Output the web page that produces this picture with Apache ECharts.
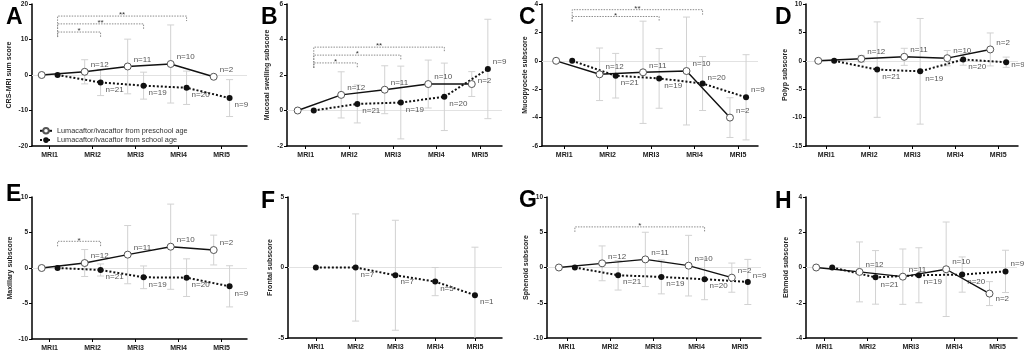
<!DOCTYPE html>
<html>
<head>
<meta charset="utf-8">
<script src="https://cdn.jsdelivr.net/npm/echarts@6/dist/echarts.min.js"></script>
<style>
  html, body { margin: 0; background: #fff; }
  #chart { width: 1024px; height: 352px; }
</style>
</head>
<body>
<div id="chart"></div>
<script>
const visits = ['MRI1', 'MRI2', 'MRI3', 'MRI4', 'MRI5'];
const PRE = 'Lumacaftor/ivacaftor from preschool age';
const SCHOOL = 'Lumacaftor/ivacaftor from school age';

// rows = panels A..H, columns = MRI1..MRI5 (change from baseline, mean and SD)
const preMean = [
  [0, 0.9, 2.4, 3.1, -0.5],      // A
  [0, 0.88, 1.17, 1.49, 1.49],   // B
  [0, -0.95, -0.81, -0.72, -4.0],// C
  [0, 0.35, 0.7, 0.46, 2.0],     // D
  [0, 0.7, 1.88, 3.0, 2.53],     // E
  null,                          // F (no preschool group)
  [0, 0.59, 1.15, 0.26, -1.44],  // G
  [0, -0.25, -0.52, -0.1, -1.48] // H
];
const preSd = [
  [null, 3.4, 7.7, 11, null],
  [null, 1.3, 1.35, 1.35, 0.7],
  [null, 1.85, 3.6, 3.8, 1.4],
  [null, 0.6, 1.5, 1.35, 2.9],
  [null, 1.9, 4.1, 6.0, 2.1],
  null,
  [null, 2.47, 3.85, 4.3, 2.07],
  [null, 1.7, 1.57, 2.68, 0.68]
];
const schoolMean = [
  [0, -2.1, -3.0, -3.6, -6.5],
  [0, 0.37, 0.45, 0.77, 2.34],
  [0, -1.05, -1.24, -1.6, -2.57],
  [0, -1.55, -1.85, 0.22, -0.25],
  [0, -0.28, -1.31, -1.36, -2.58],
  [0, 0, -0.55, -1.0, -1.96],
  [0, -1.1, -1.34, -1.67, -2.05],
  [0, -0.56, -0.44, -0.4, -0.22]
];
const schoolSd = [
  [null, 3.7, 3.8, 4.7, 5.2],
  [null, 1.07, 2.05, 1.9, 2.8],
  [null, 1.57, 2.1, 1.9, 3.0],
  [null, 8.4, 9.3, 1.0, 0.9],
  [null, 0.85, 1.6, 2.65, 2.9],
  [null, 3.8, 3.9, 1.0, 3.4],
  [null, 2.1, 2.4, 2.9, 3.2],
  [null, 1.52, 1.56, 1.0, 1.2]
];
const preN = [null, 12, 11, 10, 2];
const schoolN = [null, 21, 19, 20, 9];
const frontalN = [null, 7, 7, 5, 1];

const font = 'Liberation Sans, Arial, Helvetica, sans-serif';
const GREY_BAR = '#d2d2d2';
const OFF = 0.185; // sideways shift of the two groups

// layout per panel; brackets are [to visit index, height, stars]
const panels = [
  {letter: 'A', name: 'CRS-MRI sum score', box: [32, 4, 215, 142], x: [0.59, 5.59], y: [-20, 20, 10], at: [1, 1], gap: 19,
    brackets: [[1, 12.1, '*'], [2, 14.4, '**'], [3, 16.6, '**']]},
  {letter: 'B', name: 'Mucosal swelling subscore', box: [287, 4, 215, 142], x: [0.57, 5.51], y: [-2, 6, 2], at: [256, 1], gap: 16,
    brackets: [[1, 2.68, '*'], [2, 3.12, '*'], [3, 3.57, '**']], schoolDy: {4: -7}, preDy: {4: -3}},
  {letter: 'C', name: 'Mucopyocele subscore', box: [542, 4, 216, 142], x: [0.49, 5.46], y: [-6, 4, 2], at: [514, 1], gap: 13,
    brackets: [[2, 3.12, '*'], [3, 3.6, '**']], schoolDy: {3: -6, 4: -7}},
  {letter: 'D', name: 'Polyp subscore', box: [806, 4, 212, 142], x: [0.53, 5.46], y: [-15, 10, 5], at: [770, 1], gap: 17.5,
    schoolDy: {4: 3}},
  {letter: 'E', name: 'Maxillary subscore', box: [32, 197, 215, 142], x: [0.59, 5.59], y: [-10, 10, 5], at: [1, 178], gap: 18.5,
    brackets: [[1, 3.76, '*']]},
  {letter: 'F', name: 'Frontal subscore', box: [288, 197, 214, 141], x: [0.3, 5.68], y: [-5, 5, 5], at: [256, 185], gap: 14,
    single: true},
  {letter: 'G', name: 'Sphenoid subscore', box: [547, 197, 214, 141], x: [0.54, 5.49], y: [-10, 10, 5], at: [514, 184], gap: 17,
    brackets: [[3, 5.76, '*']], schoolDy: {4: -6}},
  {letter: 'H', name: 'Ethmoid subscore', box: [806, 197, 211, 141], x: [0.58, 5.45], y: [-4, 4, 2], at: [770, 185], gap: 16.5,
    preDy: {4: 5}, schoolDy: {4: -8}}
];

function errorBars(means, sds, shift, gi) {
  return {
    type: 'custom', xAxisIndex: gi, yAxisIndex: gi, z: 2, silent: true, clip: true,
    dimensions: ['x', 'mean', 'sd'], encode: {x: 0, y: 1},
    data: means.map((m, i) => [i + 1 + shift, m, sds[i] == null ? 0 : sds[i]]),
    renderItem(params, api) {
      const x = api.value(0), m = api.value(1), sd = api.value(2);
      if (!sd) return null;
      const hi = api.coord([x, m + sd]), lo = api.coord([x, m - sd]);
      const st = {stroke: GREY_BAR, lineWidth: 1};
      return {type: 'group', children: [
        {type: 'line', shape: {x1: hi[0], y1: hi[1], x2: lo[0], y2: lo[1]}, style: st},
        {type: 'line', shape: {x1: hi[0] - 3.5, y1: hi[1], x2: hi[0] + 3.5, y2: hi[1]}, style: st},
        {type: 'line', shape: {x1: lo[0] - 3.5, y1: lo[1], x2: lo[0] + 3.5, y2: lo[1]}, style: st}
      ]};
    }
  };
}

function lineSeries(name, means, counts, shift, gi, dy, defDy, open) {
  return {
    type: 'line', name, xAxisIndex: gi, yAxisIndex: gi, z: open ? 4 : 3,
    symbol: 'circle', symbolSize: open ? 7 : 6, showAllSymbol: true,
    itemStyle: open ? {color: '#fff', borderColor: '#555', borderWidth: 1} : {color: '#111'},
    lineStyle: open ? {color: '#111', width: 1.4} : {color: '#111', width: 2, type: 'dotted'},
    emphasis: {disabled: true},
    label: {show: true, position: 'right', distance: 2, fontSize: 8, color: '#555', fontFamily: font},
    data: means.map((m, i) => ({
      value: [i + 1 + shift, m],
      label: counts[i] == null ? {show: false} : {
        formatter: 'n=' + counts[i],
        offset: [0, (dy && dy[i] != null) ? dy[i] : defDy]
      }
    }))
  };
}

function bracketSeries(p, gi) {
  const base = Math.min(...p.brackets.map(b => b[1]));
  return {
    type: 'custom', xAxisIndex: gi, yAxisIndex: gi, z: 5, silent: true,
    dimensions: ['from', 'to', 'h'], encode: {x: [0, 1], y: 2},
    data: p.brackets.map(b => [1 + OFF, b[0] + 1 + OFF, b[1]]),
    renderItem(params, api) {
      const a = api.coord([api.value(0), api.value(2)]);
      const b = api.coord([api.value(1), api.value(2)]);
      const foot = api.coord([api.value(0), base])[1] + 5;
      return {type: 'group', children: [
        {type: 'polyline',
          shape: {points: [[a[0], foot], [a[0], a[1]], [b[0], b[1]], [b[0], b[1] + 5]]},
          style: {stroke: '#8c8c8c', lineWidth: 1, lineDash: [1.5, 1.2], fill: 'none'}},
        {type: 'text', x: (a[0] + b[0]) / 2, y: a[1] + 3,
          style: {text: p.brackets[params.dataIndex][2], fontSize: 8, fontFamily: font,
            fill: '#333', align: 'center', verticalAlign: 'bottom'}}
      ]};
    }
  };
}

const grid = [], xAxis = [], yAxis = [], series = [], title = [];
panels.forEach((p, gi) => {
  const [l, t, w, h] = p.box;
  grid.push({left: l, top: t, width: w, height: h});
  title.push({text: p.letter, left: p.at[0], top: p.at[1],
    textStyle: {fontSize: 23, fontWeight: 'bold', color: '#000', fontFamily: font}});
  xAxis.push({
    type: 'value', gridIndex: gi, min: p.x[0], max: p.x[1],
    axisLine: {show: true, onZero: false, lineStyle: {color: '#000', width: 1.5}},
    axisTick: {show: true, length: 3, customValues: [1, 2, 3, 4, 5], lineStyle: {color: '#000', width: 1}},
    axisLabel: {customValues: [1, 2, 3, 4, 5], formatter: v => visits[v - 1], margin: 6,
      fontSize: 7, fontWeight: 'bold', color: '#222', fontFamily: font},
    splitLine: {show: false}
  });
  yAxis.push({
    type: 'value', gridIndex: gi, min: p.y[0], max: p.y[1], interval: p.y[2],
    name: p.name, nameLocation: 'middle', nameGap: p.gap,
    nameTextStyle: {fontSize: 7, fontWeight: 'bold', color: '#222', fontFamily: font},
    axisLine: {show: true, lineStyle: {color: '#000', width: 1.5}},
    axisTick: {show: true, length: 3, lineStyle: {color: '#000', width: 1}},
    axisLabel: {fontSize: 6.5, fontWeight: 'bold', color: '#222', margin: 4, fontFamily: font},
    splitLine: {show: false}
  });

  const shiftS = p.single ? 0 : OFF;
  if (!p.single) series.push(errorBars(preMean[gi], preSd[gi], -OFF, gi));
  series.push(errorBars(schoolMean[gi], schoolSd[gi], shiftS, gi));
  if (!p.single) {
    series.push(lineSeries(PRE, preMean[gi], preN, -OFF, gi, p.preDy, -7, true));
  }
  const school = lineSeries(SCHOOL, schoolMean[gi], p.single ? frontalN : schoolN, shiftS, gi,
    p.schoolDy, 7, false);
  school.markLine = {
    silent: true, symbol: 'none', z: 1, label: {show: false},
    lineStyle: {color: '#e2e2e2', type: 'solid', width: 1},
    data: [{yAxis: 0}]
  };
  series.push(school);
  if (p.brackets) series.push(bracketSeries(p, gi));
});

const chart = echarts.init(document.getElementById('chart'), null, {renderer: 'canvas'});
chart.setOption({
  animation: false,
  backgroundColor: '#fff',
  title,
  grid, xAxis, yAxis, series,
  legend: {
    data: [PRE, SCHOOL], orient: 'vertical', left: 34, top: 122,
    itemWidth: 12, itemHeight: 7, itemGap: 2, selectedMode: false,
    textStyle: {fontSize: 7.3, color: '#333', fontFamily: font}
  }
});
</script>
</body>
</html>
